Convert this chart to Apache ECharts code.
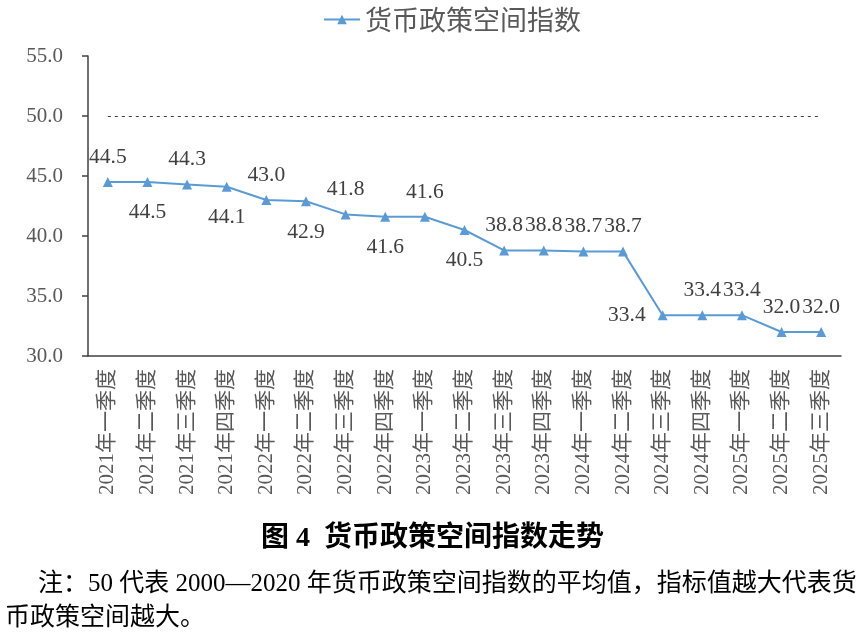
<!DOCTYPE html>
<html>
<head>
<meta charset="utf-8">
<script src="https://cdn.jsdelivr.net/npm/echarts@6/dist/echarts.min.js"></script>
<style>
  html, body { margin: 0; padding: 0; background: #fff; }
  #main { width: 865px; height: 639px; }
</style>
</head>
<body>
<div id="main"></div>
<script>
// 季度
const quarters = [
  '2021年一季度', '2021年二季度', '2021年三季度', '2021年四季度',
  '2022年一季度', '2022年二季度', '2022年三季度', '2022年四季度',
  '2023年一季度', '2023年二季度', '2023年三季度', '2023年四季度',
  '2024年一季度', '2024年二季度', '2024年三季度', '2024年四季度',
  '2025年一季度', '2025年二季度', '2025年三季度'
];
// 货币政策空间指数
const indexValues = [
  44.5, 44.5, 44.3, 44.1,
  43.0, 42.9, 41.8, 41.6,
  41.6, 40.5, 38.8, 38.8,
  38.7, 38.7, 33.4, 33.4,
  33.4, 32.0, 32.0
];
// 2000—2020 年平均值
const averageLevel = 50;
const yTicks = { min: 30, max: 55, step: 5 };

// 数据标签放在点的哪一侧
const labelSides = [
  'top', 'bottom', 'top', 'bottom',
  'top', 'bottom', 'top', 'bottom',
  'top', 'bottom', 'top', 'top',
  'top', 'top', 'left', 'top',
  'top', 'top', 'top'
];
const labelGap = { top: 9, bottom: 15, left: 12 };

const serif = 'Liberation Serif, "Times New Roman", "Noto Sans CJK SC", serif';
const cjk = '"Noto Sans CJK SC", sans-serif';

const chart = echarts.init(document.getElementById('main'));

chart.setOption({
  animation: false,
  backgroundColor: '#fff',
  legend: {
    data: ['货币政策空间指数'],
    left: 318,
    top: 1,
    itemWidth: 36,
    itemHeight: 12,
    textStyle: { fontFamily: cjk, fontSize: 27, color: '#595959' }
  },
  grid: { left: 88, right: 24, top: 56, bottom: 283 },
  xAxis: {
    type: 'category',
    data: quarters,
    boundaryGap: true,
    axisLine: { lineStyle: { color: '#404040', width: 1.5 } },
    axisTick: { inside: true, length: 6, interval: 0, lineStyle: { color: '#404040', width: 1.5 } },
    axisLabel: {
      interval: 0,
      rotate: 90,
      margin: 13,
      color: '#595959',
      fontSize: 21,
      fontFamily: serif
    }
  },
  yAxis: {
    type: 'value',
    min: yTicks.min,
    max: yTicks.max,
    interval: yTicks.step,
    splitLine: { show: false },
    axisLine: { show: true, lineStyle: { color: '#404040', width: 1.5 } },
    axisTick: { show: true, length: 6, lineStyle: { color: '#404040', width: 1.5 } },
    axisLabel: {
      margin: 25,
      color: '#595959',
      fontSize: 21,
      fontFamily: serif,
      formatter: v => v.toFixed(1)
    }
  },
  series: [{
    name: '货币政策空间指数',
    type: 'line',
    data: indexValues.map((v, i) => ({
      value: v,
      label: { position: labelSides[i], distance: labelGap[labelSides[i]] }
    })),
    symbol: 'triangle',
    symbolSize: 10,
    itemStyle: { color: '#5B9BD5' },
    lineStyle: { color: '#5B9BD5', width: 2 },
    label: {
      show: true,
      color: '#404040',
      fontSize: 21.5,
      fontFamily: serif,
      formatter: p => p.value.toFixed(1)
    },
    markLine: {
      silent: true,
      symbol: 'none',
      label: { show: false },
      lineStyle: { color: '#404040', type: [3, 4], width: 1.2 },
      data: [[
        { coord: [quarters[0], averageLevel] },
        { coord: [quarters[quarters.length - 1], averageLevel] }
      ]]
    }
  }],
  title: {
    text: '图 4  货币政策空间指数走势',
    left: 'center',
    top: 520,
    textStyle: { fontFamily: serif, fontSize: 28, fontWeight: 'bold', color: '#000' }
  },
  graphic: [
    {
      type: 'text',
      left: 38,
      top: 572,
      style: {
        text: '注：50 代表 2000—2020 年货币政策空间指数的平均值，指标值越大代表货',
        font: '25px ' + serif,
        fill: '#000'
      }
    },
    {
      type: 'text',
      left: 5,
      top: 606,
      style: {
        text: '币政策空间越大。',
        font: '25px ' + serif,
        fill: '#000'
      }
    }
  ]
});
</script>
</body>
</html>
